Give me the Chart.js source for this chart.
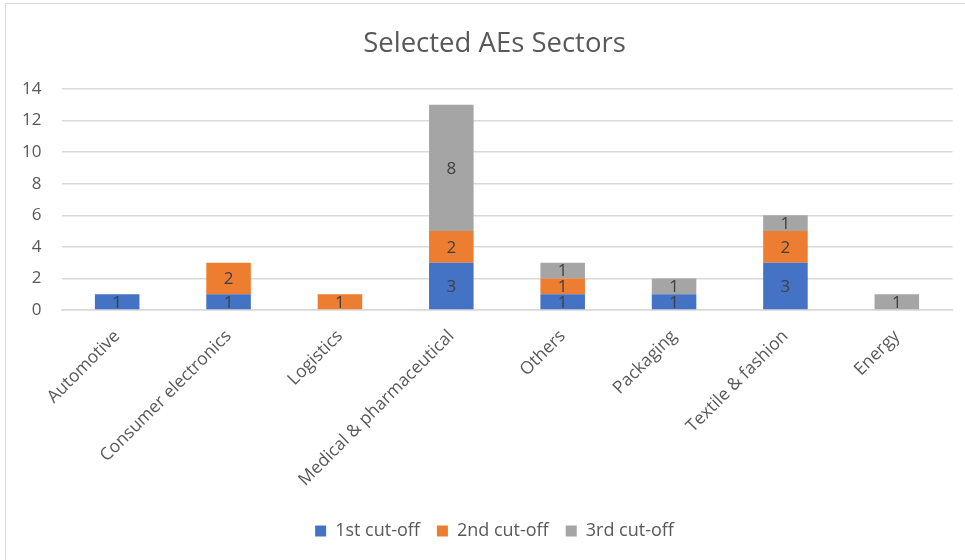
<!DOCTYPE html>
<html>
<head>
<meta charset="utf-8">
<script src="https://cdn.jsdelivr.net/npm/chart.js@4.4.1/dist/chart.umd.min.js"></script>
<style>
  html, body { margin: 0; padding: 0; background: #fff; overflow: hidden; }
  #wrap {
    position: absolute; left: 5px; top: 3px; width: 980px; height: 562px;
    border-left: 1.5px solid #d9d9d9; border-top: 1.5px solid #d9d9d9;
    box-sizing: border-box;
  }
  canvas { position: absolute; left: 0; top: 0; }
</style>
</head>
<body>
<div id="wrap"><canvas id="chart" width="978" height="557"></canvas></div>
<script>
const categories = ['Automotive', 'Consumer electronics', 'Logistics', 'Medical & pharmaceutical',
  'Others', 'Packaging', 'Textile & fashion', 'Energy'];
const firstCutoff = [1, 1, 0, 3, 1, 1, 3, 0];
const secondCutoff = [0, 2, 1, 2, 1, 0, 2, 0];
const thirdCutoff = [0, 0, 0, 8, 1, 1, 1, 1];
const yTicks = [0, 2, 4, 6, 8, 10, 12, 14];

const font = "'Open Sans', 'Noto Sans', sans-serif";

// draws the value in the middle of each segment, like excel data labels
const segmentLabels = {
  id: 'segmentLabels',
  afterDatasetsDraw(chart) {
    const ctx = chart.ctx;
    ctx.save();
    ctx.font = '17px ' + font;
    ctx.fillStyle = '#404040';
    ctx.textAlign = 'center';
    ctx.textBaseline = 'middle';
    chart.data.datasets.forEach((ds, i) => {
      const meta = chart.getDatasetMeta(i);
      meta.data.forEach((bar, j) => {
        const v = ds.data[j];
        if (!v) return;
        const p = bar.getProps(['x', 'y', 'base'], true);
        ctx.fillText(String(v), p.x, (p.y + p.base) / 2 + 1);
      });
    });
    ctx.restore();
  }
};

new Chart(document.getElementById('chart'), {
  type: 'bar',
  data: {
    labels: categories,
    datasets: [
      { label: '1st cut-off', data: firstCutoff, backgroundColor: '#4472c4' },
      { label: '2nd cut-off', data: secondCutoff, backgroundColor: '#ed7d31' },
      { label: '3rd cut-off', data: thirdCutoff, backgroundColor: '#a5a5a5' }
    ]
  },
  options: {
    responsive: false,
    animation: false,
    categoryPercentage: 1,
    barPercentage: 0.4,
    layout: { padding: { left: 30.5, right: 31.5, top: 0, bottom: 11 } },
    plugins: {
      title: {
        display: true,
        text: 'Selected AEs Sectors',
        color: '#595959',
        font: { family: font, size: 27.5, weight: 'normal' },
        padding: { top: 24, bottom: 28 }
      },
      legend: {
        position: 'bottom',
        labels: {
          color: '#595959',
          font: { family: font, size: 18 },
          boxWidth: 11,
          boxHeight: 11,
          padding: 17
        }
      },
      tooltip: { enabled: false }
    },
    scales: {
      x: {
        stacked: true,
        grid: { display: false },
        border: { color: '#d9d9d9', width: 1.5 },
        ticks: {
          color: '#595959',
          font: { family: font, size: 17.5 },
          minRotation: 45,
          maxRotation: 45,
          padding: 8
        },
        afterFit(axis) { axis.paddingLeft = 0; axis.paddingRight = 0; axis.height = 195; }
      },
      y: {
        stacked: true,
        min: 0,
        max: 14,
        afterBuildTicks(axis) { axis.ticks = yTicks.map(v => ({ value: v })); },
        afterFit(axis) {
          axis.width = 25;
          // labels sit in the left padding, so don't clip them to the narrow axis box
          axis._computeLabelArea = () => undefined;
        },
        grid: { color: '#d9d9d9', lineWidth: 1.5, drawTicks: false },
        border: { display: false },
        ticks: {
          color: '#595959',
          font: { family: font, size: 17 },
          padding: 20
        }
      }
    }
  },
  plugins: [segmentLabels]
});
</script>
</body>
</html>
